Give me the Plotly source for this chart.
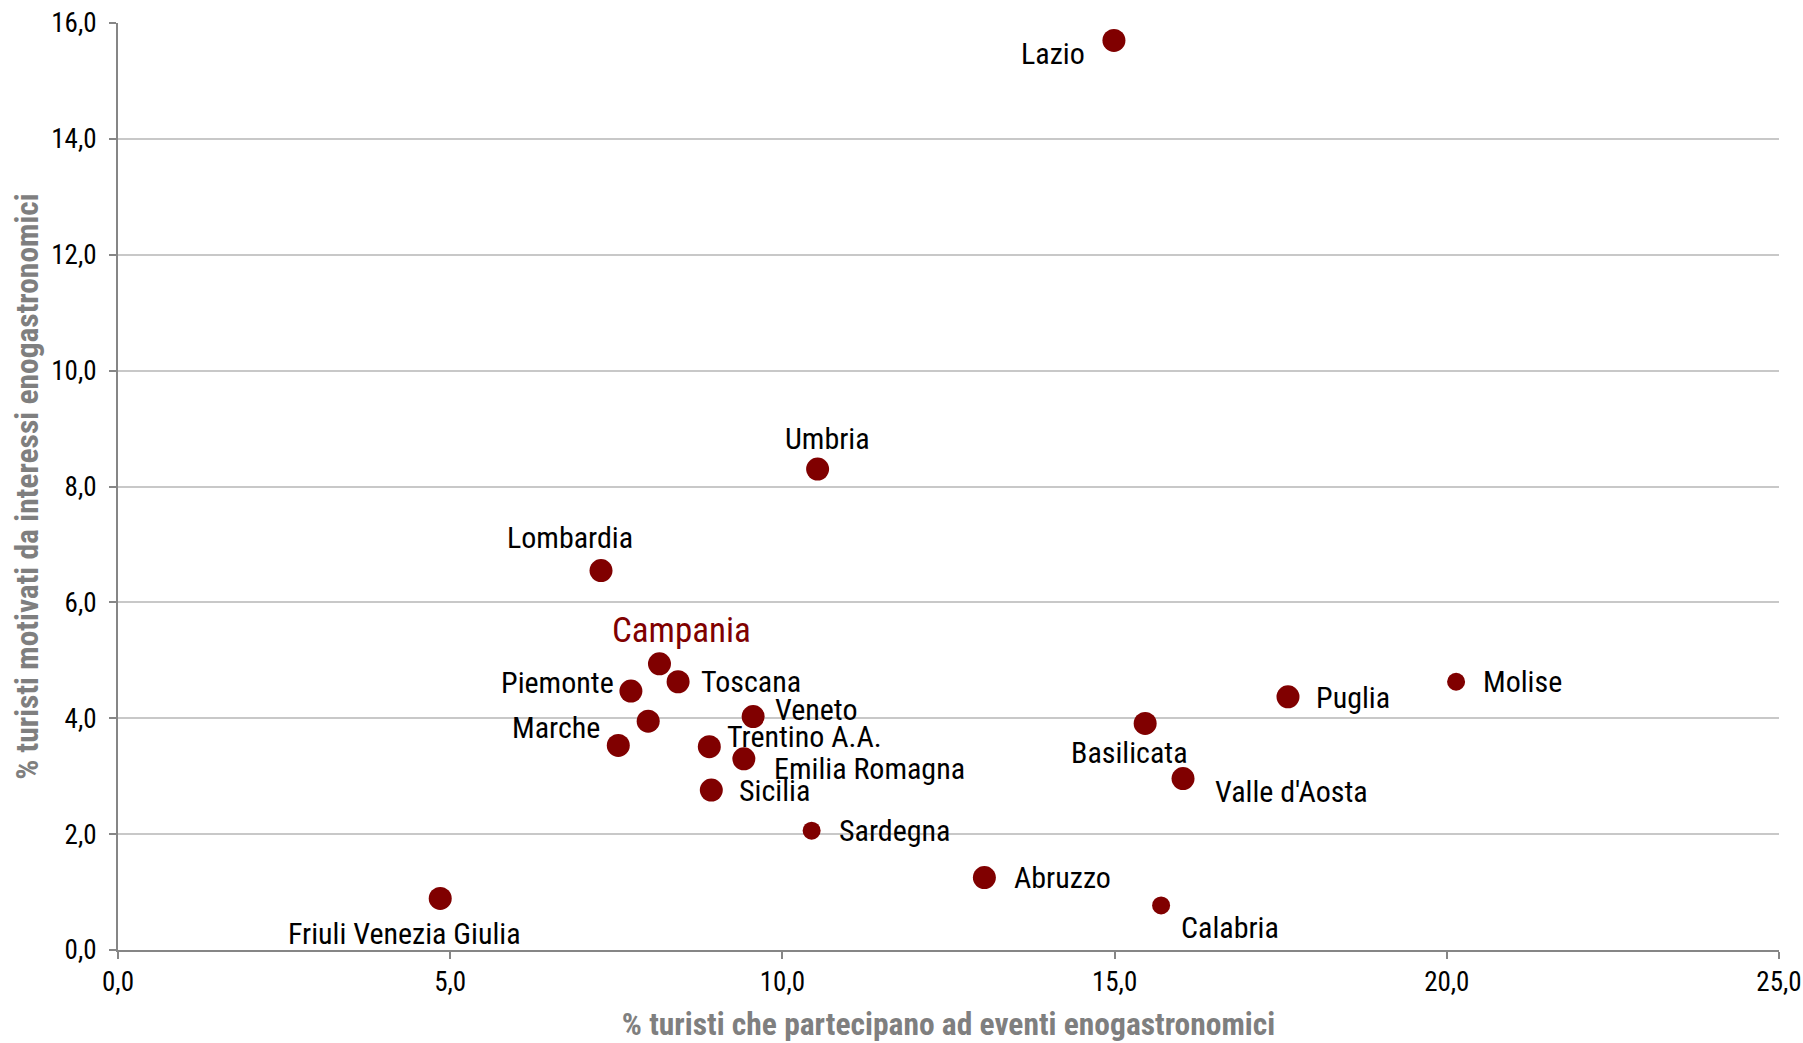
import plotly.graph_objects as go

# Regional data: % tourists attending food & wine events (x) vs % motivated by food & wine interests (y)
regioni = ["Lazio", "Umbria", "Lombardia", "Campania", "Toscana", "Piemonte", "Liguria",
           "Marche", "Veneto", "Trentino A.A.", "Emilia Romagna", "Sicilia", "Sardegna",
           "Abruzzo", "Calabria", "Friuli Venezia Giulia", "Basilicata", "Valle d'Aosta",
           "Puglia", "Molise"]
partecipano_eventi = [14.99, 10.53, 7.27, 8.15, 8.43, 7.72, 7.98, 7.53, 9.56, 8.90, 9.42,
                      8.93, 10.44, 13.04, 15.70, 4.85, 15.46, 16.03, 17.61, 20.14]
motivati_interessi = [15.70, 8.30, 6.55, 4.94, 4.63, 4.47, 3.95, 3.53, 4.03, 3.51, 3.30,
                      2.76, 2.06, 1.25, 0.77, 0.89, 3.91, 2.96, 4.37, 4.63]
etichette = ["Lazio", "Umbria", "Lombardia", "Campania", "Toscana", "Piemonte", "",
             "Marche", "Veneto", "Trentino A.A.", "Emilia Romagna", "Sicilia", "Sardegna",
             "Abruzzo", "Calabria", "Friuli Venezia Giulia", "Basilicata", "Valle d'Aosta",
             "Puglia", "Molise"]

x_ticks = [0, 5, 10, 15, 20, 25]
y_ticks = [0, 2, 4, 6, 8, 10, 12, 14, 16]

ROSSO = "#800000"
FONT = "Roboto Condensed, Liberation Sans, sans-serif"

# label placement per region: (anchor, dx, dy) in pixels from the marker
posizioni = {
    "Lazio": ("center", -61, 13), "Umbria": ("center", 10, -31),
    "Lombardia": ("center", -31, -33), "Campania": ("center", 22, -33),
    "Toscana": ("left", 21, 0), "Piemonte": ("right", -15, -9),
    "Marche": ("right", -16, -18), "Veneto": ("left", 20, -7),
    "Trentino A.A.": ("left", 16, -10), "Emilia Romagna": ("left", 28, 10),
    "Sicilia": ("left", 26, 0), "Sardegna": ("left", 25, 0),
    "Abruzzo": ("left", 28, 0), "Calabria": ("left", 18, 22),
    "Friuli Venezia Giulia": ("center", -36, 35), "Basilicata": ("center", -16, 29),
    "Valle d'Aosta": ("left", 30, 13), "Puglia": ("left", 26, 1),
    "Molise": ("left", 25, 0),
}
piccoli = {"Sardegna", "Calabria", "Molise"}
sizes = [18 if r in piccoli else 23 for r in regioni]

fig = go.Figure()
fig.add_trace(go.Scatter(
    x=partecipano_eventi, y=motivati_interessi, mode="markers",
    marker=dict(color=ROSSO, size=sizes, opacity=1, line=dict(width=0)),
    text=regioni, hoverinfo="text", showlegend=False,
))

annotations = []
for r, xv, yv, lab in zip(regioni, partecipano_eventi, motivati_interessi, etichette):
    if not lab:
        continue
    anchor, dx, dy = posizioni[lab]
    is_camp = lab == "Campania"
    annotations.append(dict(
        x=xv, y=yv, xref="x", yref="y", text=lab, showarrow=False,
        xanchor=anchor, yanchor="middle", xshift=dx, yshift=-dy,
        font=dict(family=FONT, size=35 if is_camp else 30,
                  color=ROSSO if is_camp else "#000000"),
    ))

fig.update_layout(
    width=1803, height=1043,
    margin=dict(l=118, r=24, t=23, b=93, autoexpand=False),
    paper_bgcolor="white", plot_bgcolor="white",
    separators=",.",
    annotations=annotations,
    font=dict(family=FONT, color="#000000"),
    xaxis=dict(
        range=[0, 25.0001], tickvals=x_ticks, tickformat=".1f", automargin=False,
        showgrid=False, zeroline=False,
        showline=True, linecolor="#868686", linewidth=2,
        ticks="outside", ticklen=7, tickcolor="#868686", tickwidth=2,
        tickfont=dict(family=FONT, size=27, color="#000000"),
        title=dict(text="<b>% turisti che partecipano ad eventi enogastronomici</b>",
                   font=dict(family=FONT, size=31.5, color="#7f7f7f"), standoff=16),
    ),
    yaxis=dict(
        range=[0, 16.0001], tickvals=y_ticks, tickformat=".1f", automargin=False,
        showgrid=True, gridcolor="#c8c8c8", gridwidth=2, zeroline=False,
        showline=True, linecolor="#868686", linewidth=2,
        ticks="outside", ticklen=7, tickcolor="#868686", tickwidth=2,
        ticklabelstandoff=7,
        tickfont=dict(family=FONT, size=27, color="#000000"),
        title=dict(text="<b>% turisti motivati da interessi enogastronomici</b>",
                   font=dict(family=FONT, size=31.5, color="#7f7f7f"), standoff=3),
    ),
)

fig.write_html("out.html")
